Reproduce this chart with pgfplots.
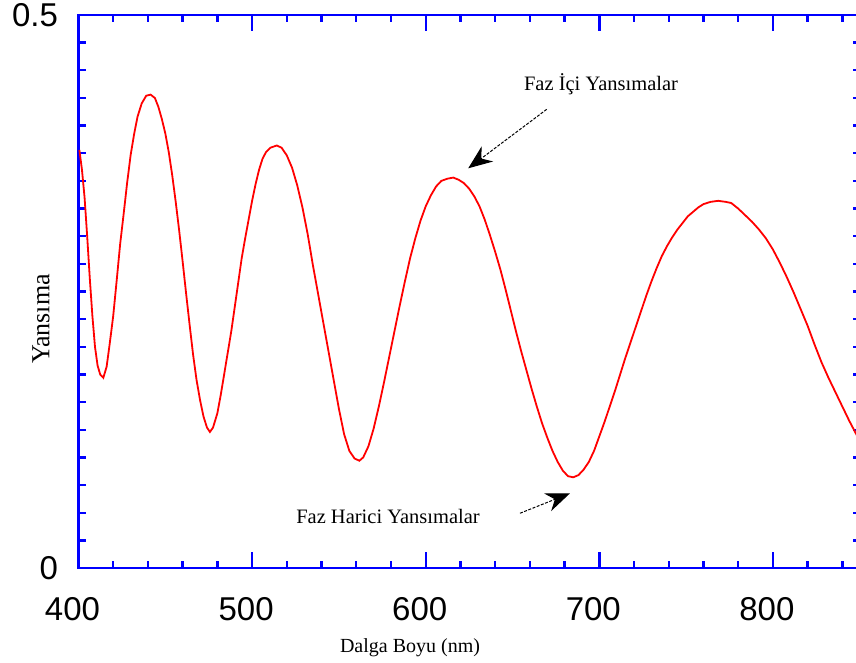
\documentclass[border=0pt]{standalone}
\usepackage{fontspec}
\setmainfont{Liberation Serif}
\newfontfamily\ticksf{Liberation Sans}
\usepackage{pgfplots}
\pgfplotsset{compat=1.18}
\usetikzlibrary{arrows.meta}

\begin{document}
\begin{tikzpicture}
\useasboundingbox (-78.5pt,-95pt) rectangle (777.5pt,568pt);
\begin{axis}[
    scale only axis,
    width=781.2pt, height=553pt,
    xmin=400, xmax=850,
    ymin=0, ymax=0.5,
    xtick={400,500,...,800},
    minor xtick={420,440,...,840},
    ytick={0,0.5},
    minor ytick={0.025,0.05,...,0.48},
    tick align=inside,
    major tick length=16pt,
    minor tick length=7pt,
    axis line style={draw=blue, line width=2.6pt},
    every tick/.style={draw=blue, line width=2.4pt},
    /pgf/number format/assume math mode=true,
    tick label style={font=\ticksf\fontsize{33}{36}\selectfont, black},
    xticklabel style={yshift=-26pt, xshift=-6pt},
    yticklabel style={xshift=-17pt},
    xlabel={Dalga Boyu (nm)},
    xlabel style={font=\fontsize{20}{24}\selectfont, at={(axis description cs:0.4244,-0.1537)}, anchor=base},
    ylabel={Yansıma},
    ylabel style={font=\fontsize{26}{30}\selectfont, at={(axis description cs:-0.048,0.4503)}, anchor=center},
]
\addplot[red, line width=1.8pt] coordinates {
 (400.5,0.378) (402.0,0.360) (403.5,0.335) (405.0,0.300) (406.5,0.262)
 (408.0,0.228) (409.5,0.200) (411.0,0.183) (412.5,0.175) (414.3,0.172)
 (416.2,0.182) (418.0,0.203) (420.0,0.228) (422.0,0.260) (424.0,0.293)
 (426.0,0.320) (428.0,0.348) (430.0,0.373) (432.0,0.392) (434.0,0.408)
 (436.4,0.420) (439.0,0.427) (441.5,0.428) (444.0,0.425)
 (446.0,0.417) (448.0,0.406) (450.0,0.393) (452.0,0.376) (454.0,0.355)
 (456.0,0.331) (458.0,0.305) (460.0,0.277) (462.0,0.248) (464.0,0.220)
 (466.0,0.193) (468.0,0.170) (470.0,0.152) (472.0,0.137) (474.0,0.127)
 (475.7,0.123) (477.5,0.127) (480.0,0.140) (482.0,0.157) (484.0,0.176)
 (486.0,0.195) (488.0,0.214) (490.0,0.236) (492.0,0.258) (494.0,0.280)
 (496.0,0.298) (498.0,0.315) (500.0,0.332) (502.0,0.347) (504.0,0.360)
 (506.0,0.370) (508.0,0.376) (510.5,0.380) (514.2,0.382)
 (517.0,0.380) (520.0,0.373) (523.0,0.362) (526.0,0.346) (529.0,0.326)
 (532.0,0.302) (535.0,0.274) (538.0,0.248) (541.0,0.222) (544.0,0.196)
 (547.0,0.170) (550.0,0.144) (553.0,0.121) (556.0,0.106) (559.0,0.099)
 (561.8,0.097) (564.0,0.100) (567.0,0.110) (570.0,0.126) (573.0,0.146)
 (576.0,0.168) (579.0,0.191) (582.0,0.214) (585.0,0.237) (588.0,0.259)
 (591.0,0.280) (594.0,0.298) (597.0,0.314) (600.0,0.327) (603.0,0.337)
 (606.0,0.345) (609.0,0.350) (612.5,0.352) (615.9,0.353)
 (619.0,0.351) (622.0,0.348) (625.0,0.343) (628.0,0.336) (631.0,0.327)
 (634.0,0.315) (637.0,0.301) (640.0,0.286) (643.0,0.270) (646.0,0.252)
 (649.0,0.233) (652.0,0.214) (655.0,0.196) (658.0,0.179) (661.0,0.162)
 (664.0,0.146) (667.0,0.131) (670.0,0.118) (673.0,0.106) (676.0,0.096)
 (679.0,0.088) (682.0,0.083) (685.0,0.082) (688.0,0.084) (691.0,0.089)
 (694.0,0.096) (697.0,0.106) (700.0,0.119) (703.0,0.132) (706.0,0.146)
 (709.0,0.160) (712.0,0.175) (715.0,0.190) (718.0,0.204) (721.0,0.218)
 (724.0,0.232) (727.0,0.246) (730.0,0.259) (733.0,0.271) (736.0,0.282)
 (739.0,0.291) (742.0,0.299) (745.0,0.306) (748.0,0.312) (751.0,0.318)
 (754.0,0.322) (757.0,0.326) (760.0,0.329) (764.0,0.331) (768.5,0.332)
 (773.0,0.331) (776.0,0.330) (780.0,0.325) (784.0,0.319) (788.0,0.313)
 (792.0,0.306) (796.0,0.298) (800.0,0.288) (804.0,0.276) (808.0,0.263)
 (812.0,0.249) (816.0,0.234) (820.0,0.219) (824.0,0.202) (828.0,0.186)
 (832.0,0.172) (836.0,0.159) (840.0,0.146) (844.0,0.133) (848.0,0.121)
 (850.0,0.115)
};
% annotations
\node[font=\fontsize{20.5}{24}\selectfont] at (axis cs:701,0.4376) {Faz İçi Yansımalar};
\draw[black, line width=1pt, dash pattern=on 3pt off 1.5pt, -{Stealth[length=24pt,width=19pt]}]
    (axis cs:669.7,0.4147) -- (axis cs:624.5,0.3614);
\node[font=\fontsize{20.5}{24}\selectfont] at (axis cs:578.3,0.047) {Faz Harici Yansımalar};
\draw[black, line width=1pt, dash pattern=on 3pt off 1.5pt, -{Stealth[length=24pt,width=19pt]}]
    (axis cs:654.3,0.0495) -- (axis cs:683.1,0.0675);
\end{axis}
\end{tikzpicture}
\end{document}
